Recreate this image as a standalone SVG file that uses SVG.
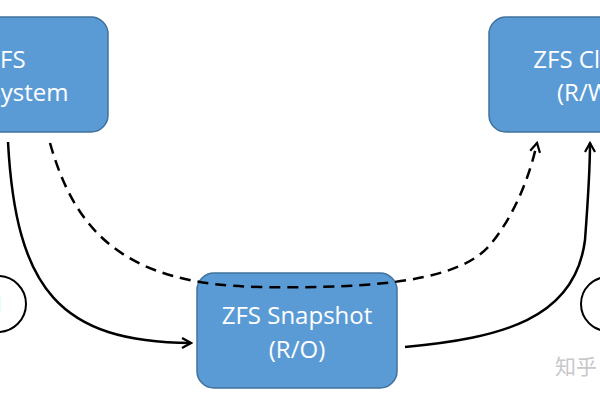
<svg xmlns="http://www.w3.org/2000/svg" width="600" height="400" viewBox="0 0 600 400">
  <defs>
    <marker id="arrow" viewBox="0 0 12 12" refX="10" refY="6" markerWidth="12" markerHeight="12" markerUnits="userSpaceOnUse" orient="auto">
      <path d="M1,1 L10,6 L1,11" fill="none" stroke="#000" stroke-width="2.2" stroke-linejoin="miter"/>
    </marker>
  </defs>
  <style>
    .box { fill: #5B9BD5; stroke: #41719C; stroke-width: 1.5; }
    .lbl { fill: #fff; font-family: "Open Sans", "Liberation Sans", sans-serif; font-size: 24px; text-anchor: middle; }
    .conn { fill: none; stroke: #000; stroke-width: 2.5; }
    .dash { stroke-dasharray: 11 7; }
    .circ { fill: none; stroke: #000; stroke-width: 2; }
    .num { fill: #000; font-family: "Open Sans", "Liberation Sans", sans-serif; font-size: 24px; text-anchor: middle; }
  </style>
  <rect width="600" height="400" fill="#fff"/>

  <g id="node-filesystem">
    <rect class="box" x="-80" y="17" width="188" height="115" rx="17"/>
    <text class="lbl" x="6" y="68">ZFS</text>
    <text class="lbl" x="6" y="101">File System</text>
  </g>

  <g id="node-snapshot">
    <rect class="box" x="197" y="273" width="200" height="115" rx="17"/>
    <text class="lbl" x="297" y="324">ZFS Snapshot</text>
    <text class="lbl" x="297" y="358">(R/O)</text>
  </g>

  <g id="node-clone">
    <rect class="box" x="489" y="17" width="188" height="115" rx="17"/>
    <text class="lbl" x="588" y="68">ZFS Clone</text>
    <text class="lbl" x="587" y="101">(R/W)</text>
  </g>

  <g id="step-1">
    <circle class="circ" cx="-2" cy="304" r="28"/>
    <text class="num" x="-2" y="313">1</text>
  </g>

  <g id="step-2">
    <circle class="circ" cx="608" cy="304" r="27"/>
    <text class="num" x="608" y="313">2</text>
  </g>

  <g id="connectors">
    <path class="conn" d="M 8 142 C 16 290, 60 342, 191 343" marker-end="url(#arrow)"/>
    <path class="conn dash" d="M 50 143 C 75 232, 125 285, 260 287 C 380 289, 460 280, 490 245 C 515 215, 530 175, 537 143" marker-end="url(#arrow)"/>
    <path class="conn" d="M 405 347 C 500 338, 575 320, 585 240 C 588 200, 590 170, 590 143" marker-end="url(#arrow)"/>
  </g>

  <text x="555" y="374" font-family="Noto Sans CJK SC, sans-serif" font-size="21" fill="#c8c8c8">知乎</text>
</svg>
